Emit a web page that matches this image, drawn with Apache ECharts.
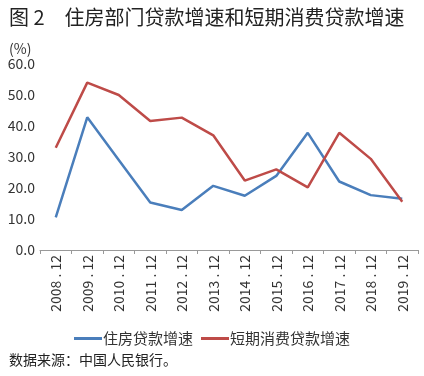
<!DOCTYPE html>
<html><head><meta charset="utf-8">
<script src="https://cdn.jsdelivr.net/npm/echarts@6/dist/echarts.min.js"></script>
<style>html,body{margin:0;padding:0;background:#fff}#c{width:424px;height:376px}</style>
</head><body><div id="c"></div>
<script>
const categories = ['2008.12','2009.12','2010.12','2011.12','2012.12','2013.12','2014.12','2015.12','2016.12','2017.12','2018.12','2019.12'];
const housingLoanGrowth = [10.5, 42.8, 29.0, 15.3, 12.9, 20.7, 17.5, 23.9, 37.8, 22.1, 17.7, 16.5];
const consumerLoanGrowth = [33.0, 54.0, 50.0, 41.6, 42.7, 37.0, 22.4, 26.0, 20.2, 37.8, 29.4, 15.6];
const seriesNames = ['住房贷款增速', '短期消费贷款增速'];
const yTicks = [0, 10, 20, 30, 40, 50, 60];

const font = '"Noto Sans CJK SC", "Liberation Sans", sans-serif';
const chart = echarts.init(document.getElementById('c'));
chart.setOption({
  animation: false,
  textStyle: {fontFamily: font},
  title: [
    {text: '图 2　住房部门贷款增速和短期消费贷款增速', left: 4, top: 2,
     textStyle: {fontSize: 20, fontWeight: 'normal', color: '#222', fontFamily: font}},
    {text: '(%)', left: 4, top: 37, textStyle: {fontSize: 14, fontWeight: 'normal', color: '#333', fontFamily: font}},
    {text: '数据来源：中国人民银行。', left: 4, top: 348,
     textStyle: {fontSize: 14, fontWeight: 'normal', color: '#222', fontFamily: font}}
  ],
  legend: {
    data: seriesNames, top: 326, left: 'center', itemWidth: 28, itemHeight: 3, itemGap: 8,
    icon: 'rect',
    textStyle: {fontSize: 15, color: '#333', fontFamily: font, padding: [0,0,0,-4]}
  },
  grid: {left: 40, right: 6, top: 64, bottom: 126},
  xAxis: {
    type: 'category', data: categories, boundaryGap: true,
    axisLine: {lineStyle: {color: '#999'}},
    axisTick: {show: true, length: 4, lineStyle: {color: '#999'}},
    axisLabel: {rotate: 90, fontSize: 14, color: '#333', margin: 5, interval: 0, fontFamily: font,
      formatter: v => v.replace('.', ' . ')}
  },
  yAxis: {
    type: 'value', min: yTicks[0], max: yTicks[yTicks.length - 1], interval: 10,
    axisLine: {show: false}, axisTick: {show: false}, splitLine: {show: false},
    axisLabel: {fontSize: 14, color: '#333', margin: 5, formatter: v => v.toFixed(1), fontFamily: font}
  },
  series: [
    {name: seriesNames[0], type: 'line', data: housingLoanGrowth, symbol: 'none',
     lineStyle: {width: 2.5, color: '#4A7EBB'}, itemStyle: {color: '#4A7EBB'}},
    {name: seriesNames[1], type: 'line', data: consumerLoanGrowth, symbol: 'none',
     lineStyle: {width: 2.5, color: '#BE4B48'}, itemStyle: {color: '#BE4B48'}}
  ]
});
</script></body></html>
